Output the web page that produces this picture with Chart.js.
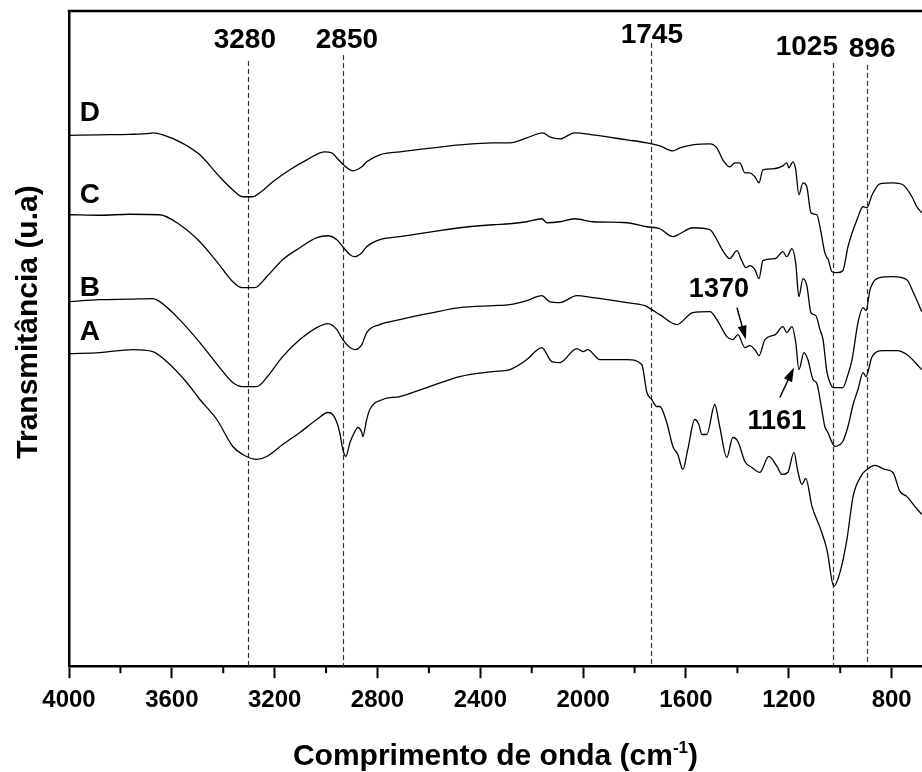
<!DOCTYPE html>
<html>
<head>
<meta charset="utf-8">
<script src="https://cdn.jsdelivr.net/npm/chart.js@4.4.0/dist/chart.umd.min.js"></script>
<style>
  html, body { margin: 0; padding: 0; background: #fff; overflow: hidden; }
  canvas { display: block; }
</style>
</head>
<body>
<canvas id="ftirChart" width="922" height="772"></canvas>
<script>
// spectra: [wavenumber cm-1, transmittance (arbitrary units, offset per sample)]
const specD = [[4000,531.5],[3881,532],[3764,532.5],[3686,533.5],[3674,534],[3635,532],[3561,524],[3491,512],[3414,490],[3363,477],[3324,470],[3286,470],[3258,474],[3207,485],[3141,497],[3075,507],[3005,515],[2978,514],[2955,508],[2919,499],[2896,496],[2861,500],[2842,505],[2791,512],[2713,515],[2585,519],[2480,522],[2351,524],[2285,524],[2219,529],[2157,534],[2130,530],[2091,528],[2033,534],[1962,532],[1830,527],[1752,524],[1702,521],[1651,516],[1624,519],[1574,522],[1507,523],[1480,519],[1457,507],[1430,500],[1410,504],[1391,504],[1371,494],[1352,494],[1332,490],[1316,484],[1301,497],[1262,498],[1223,501],[1208,504],[1200,499],[1184,505],[1173,497],[1161,472],[1145,484],[1130,480],[1114,454],[1091,452],[1079,440],[1060,414],[1052,409],[1048,408],[1032,395],[1013,394],[990,396],[970,420],[935,447],[911,460],[896,459],[876,472],[846,483],[795,484],[756,482],[721,470],[702,460],[683,454]];

const specC = [[3997,452],[3881,451.5],[3764,452.5],[3647,452],[3569,442],[3491,425],[3425,405],[3363,385],[3328,379],[3277,379],[3231,390],[3169,407],[3102,419],[3036,429],[2993,431],[2958,427],[2935,420],[2907,412],[2888,410],[2861,414],[2842,420],[2791,427],[2713,430],[2585,435],[2480,439],[2351,442],[2285,443],[2219,445],[2161,448],[2141,444],[2091,445],[2033,448],[1962,445],[1830,444],[1752,440],[1702,438],[1651,430],[1624,433],[1574,439],[1507,437],[1480,427],[1457,416],[1430,408],[1402,416],[1383,406],[1367,399],[1352,401],[1332,397],[1316,388],[1301,406],[1253,408],[1223,415],[1208,410],[1188,418],[1173,403],[1161,370],[1145,388],[1130,381],[1114,354],[1095,351],[1079,337],[1067,327],[1052,295],[1040,284],[1028,279],[990,279],[970,292],[954,307],[931,344],[911,359],[900,356],[884,377],[846,389],[795,390],[741,387],[717,375],[683,355]];

const specB = [[3997,365],[3881,367],[3764,367.5],[3674,368],[3647,365],[3581,350],[3491,324],[3414,299],[3363,284],[3328,280],[3270,280],[3231,289],[3169,310],[3102,327],[3036,339],[2993,343],[2958,337],[2935,327],[2907,319],[2888,317],[2861,322],[2842,334],[2791,342],[2713,347],[2585,354],[2480,359],[2351,361],[2285,362],[2219,366],[2161,371],[2130,365],[2091,364],[2025,371],[1962,369],[1830,364],[1760,361],[1733,357],[1702,352],[1636,342],[1574,354],[1507,355],[1480,347],[1441,330],[1418,327],[1398,332],[1371,319],[1352,321],[1332,317],[1316,311],[1293,327],[1253,332],[1223,340],[1208,334],[1188,340],[1173,324],[1161,297],[1141,314],[1126,307],[1106,287],[1091,283],[1075,262],[1060,240],[1048,234],[1032,224],[1021,220],[1001,222],[990,225],[970,240],[950,262],[931,277],[911,294],[900,290],[876,310],[834,316],[779,316],[741,312],[683,297]];

const specA = [[3997,313],[3881,314],[3752,317],[3674,315],[3620,305],[3542,284],[3491,267],[3425,247],[3363,220],[3324,212],[3270,207],[3231,210],[3169,222],[3102,234],[3036,247],[2993,254],[2974,252],[2958,244],[2947,234],[2935,217],[2923,210],[2907,224],[2888,235],[2877,239],[2861,234],[2857,230],[2842,247],[2830,257],[2780,267],[2713,270],[2608,279],[2480,290],[2351,295],[2285,297],[2219,307],[2161,319],[2122,305],[2091,304],[2025,318],[2001,315],[1982,317],[1935,307],[1830,307],[1772,302],[1752,274],[1733,267],[1714,260],[1702,260],[1675,244],[1651,220],[1632,212],[1612,197],[1593,217],[1566,247],[1550,242],[1538,232],[1519,232],[1488,262],[1469,240],[1441,209],[1418,229],[1398,225],[1371,205],[1344,199],[1313,194],[1278,210],[1246,200],[1227,192],[1204,194],[1180,214],[1165,195],[1149,182],[1134,188],[1110,160],[1079,139],[1052,117],[1025,80],[1001,94],[974,127],[950,170],[915,192],[896,197],[865,201],[826,197],[795,194],[768,175],[741,170],[710,160],[683,152]];

const seriesNames = ['D', 'C', 'B', 'A'];
const seriesData = [specD, specC, specB, specA];
const nameLevel = [554, 471, 378, 334];

// band markers (dashed lines) and their labels
const markerWave = [3305, 2934, 1738, 1028, 896];
const markerTop = [606, 612, 624, 604, 602];
const markerText = ['3280', '2850', '1745', '1025', '896'];
const markerTextWave = [3316, 2919, 1733, 1130, 876];
const markerTextLevel = [627, 627, 632, 620, 618];

// arrow callouts
const arrowText = ['1370', '1161'];
const arrowTextAt = [[1472, 377], [1247, 245]];
const arrowFrom = [[1402, 359], [1235, 269]];
const arrowTo = [[1367, 327], [1180, 299]];

const xTicks = [4000, 3600, 3200, 2800, 2400, 2000, 1600, 1200, 800];

const FONT = '"Liberation Sans", Arial, sans-serif';

const ftirDecor = {
  id: 'ftirDecor',
  beforeDatasetsDraw(chart) {
    const { ctx, chartArea, scales: { x, y } } = chart;
    ctx.save();
    ctx.strokeStyle = '#333';
    ctx.lineWidth = 1.2;
    ctx.setLineDash([5, 3]);
    markerWave.forEach((w, i) => {
      const px = Math.round(x.getPixelForValue(w)) + 0.5;
      ctx.beginPath();
      ctx.moveTo(px, y.getPixelForValue(markerTop[i]));
      ctx.lineTo(px, chartArea.bottom);
      ctx.stroke();
    });
    ctx.restore();
  },
  afterDraw(chart) {
    const { ctx, chartArea, scales: { x, y } } = chart;
    ctx.save();

    // top frame line
    ctx.strokeStyle = '#000';
    ctx.lineWidth = 2.5;
    ctx.beginPath();
    ctx.moveTo(chartArea.left - 1.25, chartArea.top);
    ctx.lineTo(chartArea.right, chartArea.top);
    ctx.stroke();

    // minor ticks
    ctx.lineWidth = 2;
    for (let v = 3800; v > x.min; v -= 400) {
      const px = x.getPixelForValue(v);
      ctx.beginPath();
      ctx.moveTo(px, chartArea.bottom);
      ctx.lineTo(px, chartArea.bottom + 7);
      ctx.stroke();
    }

    ctx.fillStyle = '#000';
    ctx.textBaseline = 'middle';

    // sample names
    ctx.font = 'bold 28px ' + FONT;
    ctx.textAlign = 'left';
    seriesNames.forEach((n, i) => {
      ctx.fillText(n, x.getPixelForValue(3958), y.getPixelForValue(nameLevel[i]));
    });

    // marker labels
    ctx.textAlign = 'center';
    markerText.forEach((t, i) => {
      ctx.fillText(t, x.getPixelForValue(markerTextWave[i]), y.getPixelForValue(markerTextLevel[i]));
    });

    // arrow callouts
    ctx.font = 'bold 27px ' + FONT;
    arrowText.forEach((t, i) => {
      ctx.fillText(t, x.getPixelForValue(arrowTextAt[i][0]), y.getPixelForValue(arrowTextAt[i][1]));
      const x0 = x.getPixelForValue(arrowFrom[i][0]), y0 = y.getPixelForValue(arrowFrom[i][1]);
      const x1 = x.getPixelForValue(arrowTo[i][0]), y1 = y.getPixelForValue(arrowTo[i][1]);
      const a = Math.atan2(y1 - y0, x1 - x0);
      ctx.lineWidth = 1.5;
      ctx.beginPath();
      ctx.moveTo(x0, y0);
      ctx.lineTo(x1 - 8 * Math.cos(a), y1 - 8 * Math.sin(a));
      ctx.stroke();
      ctx.beginPath();
      ctx.moveTo(x1, y1);
      ctx.lineTo(x1 - 14 * Math.cos(a) + 4.5 * Math.sin(a), y1 - 14 * Math.sin(a) - 4.5 * Math.cos(a));
      ctx.lineTo(x1 - 14 * Math.cos(a) - 4.5 * Math.sin(a), y1 - 14 * Math.sin(a) + 4.5 * Math.cos(a));
      ctx.closePath();
      ctx.fill();
    });

    // x axis title with superscript
    ctx.textBaseline = 'alphabetic';
    ctx.textAlign = 'left';
    const main = 'Comprimento de onda (cm';
    ctx.font = 'bold 30px ' + FONT;
    const wMain = ctx.measureText(main).width;
    const wClose = ctx.measureText(')').width;
    ctx.font = 'bold 17px ' + FONT;
    const wSup = ctx.measureText('-1').width;
    const total = wMain + wSup + wClose;
    let tx = (chartArea.left + chartArea.right) / 2 - total / 2;
    const base = 765;
    ctx.font = 'bold 30px ' + FONT;
    ctx.fillText(main, tx, base);
    tx += wMain;
    ctx.font = 'bold 17px ' + FONT;
    ctx.fillText('-1', tx, base - 12);
    tx += wSup;
    ctx.font = 'bold 30px ' + FONT;
    ctx.fillText(')', tx, base);

    // y axis title
    ctx.translate(37, 322);
    ctx.rotate(-Math.PI / 2);
    ctx.textAlign = 'center';
    ctx.fillText('Transmitância (u.a)', 0, 0);

    ctx.restore();
  }
};

new Chart(document.getElementById('ftirChart'), {
  type: 'line',
  data: {
    datasets: seriesData.map((s, i) => ({
      label: seriesNames[i],
      data: s.map(p => ({ x: p[0], y: p[1] })),
      borderColor: '#000',
      borderWidth: 1.3,
      pointRadius: 0,
      cubicInterpolationMode: 'monotone',
      fill: false
    }))
  },
  options: {
    responsive: false,
    animation: false,
    devicePixelRatio: 1,
    layout: { padding: { left: 69, top: 11, right: 0, bottom: 49 } },
    plugins: {
      legend: { display: false },
      tooltip: { enabled: false }
    },
    scales: {
      x: {
        type: 'linear',
        reverse: true,
        min: 682,
        max: 4000,
        afterBuildTicks: (scale) => {
          scale.ticks = xTicks.map(v => ({ value: v }));
        },
        ticks: {
          autoSkip: false,
          maxRotation: 0,
          minRotation: 0,
          padding: 8,
          color: '#000',
          font: { family: FONT, size: 24, weight: 'bold' },
          callback: (v) => String(v)
        },
        grid: {
          display: true,
          drawOnChartArea: false,
          drawTicks: true,
          tickLength: 12,
          tickWidth: 2,
          tickColor: '#000'
        },
        border: { display: true, color: '#000', width: 2.5 }
      },
      y: {
        min: 0,
        max: 656,
        ticks: { display: false },
        grid: { display: false, drawTicks: false },
        border: { display: true, color: '#000', width: 2.5 }
      }
    }
  },
  plugins: [ftirDecor]
});
</script>
</body>
</html>
